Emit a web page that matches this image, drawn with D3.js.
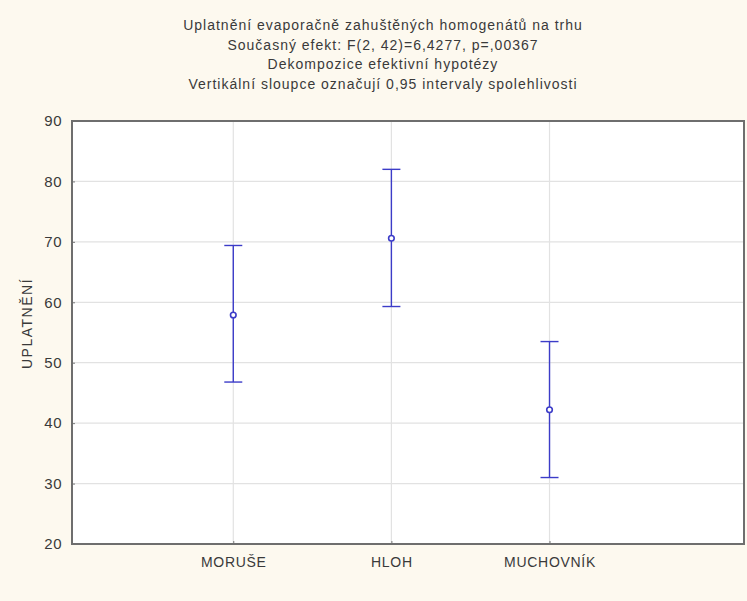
<!DOCTYPE html>
<html>
<head>
<meta charset="utf-8">
<script src="https://cdn.jsdelivr.net/npm/d3@7"></script>
<style>
  html, body { margin: 0; padding: 0; background: #fdf9ef; }
  svg { display: block; }
  text { font-family: "Liberation Sans", Arial, sans-serif; fill: #3a3a3a; }
</style>
</head>
<body>
<svg id="chart" width="747" height="601"></svg>
<script>
// Group means with 0.95 confidence limits
const categories = ["MORUŠE", "HLOH", "MUCHOVNÍK"];
const means = [57.9, 70.6, 42.2];
const lower = [46.8, 59.3, 31.0];
const upper = [69.4, 82.0, 53.5];
const yTicks = [20, 30, 40, 50, 60, 70, 80, 90];
const titleLines = [
  "Uplatnění evaporačně zahuštěných homogenátů na trhu",
  "Současný efekt: F(2, 42)=6,4277, p=,00367",
  "Dekompozice efektivní hypotézy",
  "Vertikální sloupce označují 0,95 intervaly spolehlivosti"
];
const yLabel = "UPLATNĚNÍ";

const svg = d3.select("#chart");
const W = 747, H = 601;
const plot = { left: 72, right: 744, top: 121, bottom: 544 };

svg.append("rect").attr("width", W).attr("height", H).attr("fill", "#fdf9ef");

const x = d3.scaleLinear().domain([-0.02, 4.23]).range([plot.left, plot.right]);
const y = d3.scaleLinear().domain([20, 90]).range([plot.bottom, plot.top]);
const xi = categories.map((c, i) => i + 1);

// plot panel
svg.append("rect")
  .attr("x", plot.left).attr("y", plot.top)
  .attr("width", plot.right - plot.left).attr("height", plot.bottom - plot.top)
  .attr("fill", "#ffffff");

// grid lines
svg.append("g").selectAll("line").data(yTicks.slice(1, -1)).join("line")
  .attr("x1", plot.left).attr("x2", plot.right)
  .attr("y1", d => y(d)).attr("y2", d => y(d))
  .attr("stroke", "#e2e2e2").attr("stroke-width", 1.2);
svg.append("g").selectAll("line").data(xi).join("line")
  .attr("x1", d => x(d)).attr("x2", d => x(d))
  .attr("y1", plot.top).attr("y2", plot.bottom)
  .attr("stroke", "#e2e2e2").attr("stroke-width", 1.2);

// axes
const yAxis = d3.axisLeft(y).tickValues(yTicks).tickSize(-3).tickPadding(10);
const gy = svg.append("g").attr("transform", `translate(${plot.left},0)`).call(yAxis);
gy.select(".domain").remove();
gy.selectAll(".tick line").attr("stroke", "#777");
gy.selectAll(".tick text").attr("font-size", 15).attr("fill", "#3a3a3a")
  .attr("letter-spacing", 0.5)
  .attr("font-family", "Liberation Sans, Arial, sans-serif");

const xAxis = d3.axisBottom(x).tickValues(xi).tickFormat((d, i) => categories[i]).tickSize(-3).tickPadding(13);
const gx = svg.append("g").attr("transform", `translate(0,${plot.bottom})`).call(xAxis);
gx.select(".domain").remove();
gx.selectAll(".tick line").attr("stroke", "#777");
gx.selectAll(".tick text").attr("font-size", 14).attr("fill", "#3a3a3a")
  .attr("letter-spacing", 0.7)
  .attr("font-family", "Liberation Sans, Arial, sans-serif");

// frame
svg.append("rect")
  .attr("x", plot.left).attr("y", plot.top)
  .attr("width", plot.right - plot.left).attr("height", plot.bottom - plot.top)
  .attr("fill", "none").attr("stroke", "#6e6e6e").attr("stroke-width", 2);

// error bars
const blue = "#3c3cc8";
const bars = svg.append("g");
categories.forEach((c, i) => {
  const cx = x(xi[i]);
  bars.append("line").attr("x1", cx).attr("x2", cx)
    .attr("y1", y(lower[i])).attr("y2", y(upper[i]))
    .attr("stroke", blue).attr("stroke-width", 1.4);
  [lower[i], upper[i]].forEach(v => {
    bars.append("line").attr("x1", cx - 9).attr("x2", cx + 9)
      .attr("y1", y(v)).attr("y2", y(v))
      .attr("stroke", blue).attr("stroke-width", 1.4);
  });
  bars.append("circle").attr("cx", cx).attr("cy", y(means[i])).attr("r", 2.8)
    .attr("fill", "#ffffff").attr("stroke", blue).attr("stroke-width", 1.6);
});

// titles
svg.append("g").selectAll("text").data(titleLines).join("text")
  .attr("x", 383).attr("y", (d, i) => 30 + i * 19.5)
  .attr("text-anchor", "middle").attr("font-size", 14)
  .attr("letter-spacing", 1)
  .text(d => d);

// y label
svg.append("text")
  .attr("transform", `translate(32,${(plot.top + plot.bottom) / 2 - 9}) rotate(-90)`)
  .attr("text-anchor", "middle").attr("font-size", 14)
  .attr("letter-spacing", 1.5)
  .text(yLabel);
</script>
</body>
</html>
